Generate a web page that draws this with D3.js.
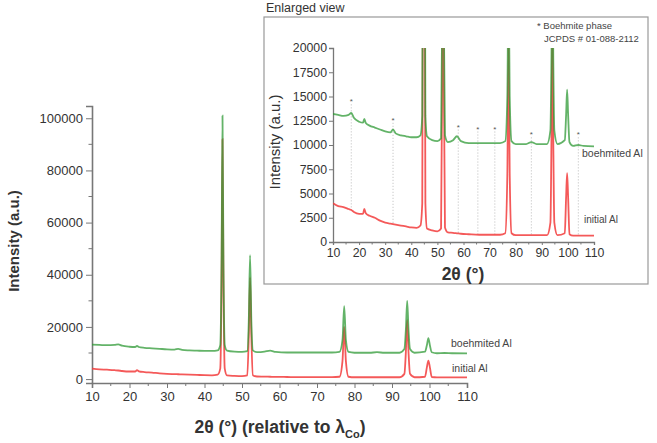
<!DOCTYPE html>
<html><head><meta charset="utf-8">
<script src="https://cdn.jsdelivr.net/npm/d3@7"></script>
<style>
body{margin:0;background:#fff;}
text{font-family:"Liberation Sans",Arial,sans-serif;}
</style></head>
<body><svg id="c" width="657" height="443"></svg>
<script>
const twoTheta = [10,12,14,16,17,18,20,21.5,22,22.5,24,26,28,30,32,33,34,36,38,40,42,43.5,44.2,44.55,44.8,45.05,45.4,46,48,50,51.4,51.8,52.15,52.5,52.9,54,56,57.5,59,62,66,70,74,76,76.8,77.25,77.7,78.4,80,84,86,88,92,93.3,93.7,94.05,94.4,94.8,96,98.8,99.3,99.7,100.1,100.6,102,104,106,110];
const boehmited = [13200,13100,13000,13100,13300,12800,12400,12300,12700,12300,12000,11800,11600,11400,11300,11600,11200,11000,10900,10800,10800,11000,13000,45000,101000,45000,13000,10900,10500,10400,10700,22000,47500,22000,11000,10300,10500,10900,10400,10200,10200,10200,10200,10400,15000,28000,15000,10400,10100,10100,10300,10100,10100,11500,19000,30000,19000,11500,10100,10500,13000,15700,13000,10300,9900,10000,9900,9850];
const initial = [4000,3700,3600,3400,3300,3100,2900,2900,3400,3000,2700,2500,2200,2000,1900,1850,1800,1700,1600,1500,1450,1700,4000,38000,92000,38000,4000,1400,1200,1100,1400,16000,39000,16000,1500,1000,950,900,850,800,750,750,750,900,7000,20000,7000,900,700,700,700,700,700,2000,10500,22600,10500,2000,700,900,4500,7100,4500,800,650,650,650,650];
const seriesNames = ["boehmited Al","initial Al"];
const boehmitePeaks = [17,33,58,65.5,72,86,104];
const boehmiteMarkLevel = [14600,12700,12000,11800,11800,11200,11200];
const mainXTicks = [10,20,30,40,50,60,70,80,90,100,110];
const mainYTicks = [0,20000,40000,60000,80000,100000];
const insetYTicks = [0,2500,5000,7500,10000,12500,15000,17500,20000];

const GREEN = "#2f9a35", RED = "#f23c3c";
const svg = d3.select("#c");
const green = twoTheta.map((t,i)=>({t, v:boehmited[i]}));
const red = twoTheta.map((t,i)=>({t, v:initial[i]}));

// ---------- main chart ----------
const mx = d3.scaleLinear().domain([10,110]).range([92,467]);
const my = d3.scaleLinear().domain([-1500,104700]).range([383,106]);
const mg = svg.append("g");
const axCol = "#777";
const xAx = d3.axisBottom(mx).tickValues(mainXTicks).tickSize(5).tickPadding(4);
const gx = mg.append("g").attr("transform","translate(0,383)").call(xAx);
const xMinor = d3.range(15,110,10);
mg.append("g").selectAll("line").data(xMinor).join("line")
  .attr("x1",d=>mx(d)).attr("x2",d=>mx(d)).attr("y1",383).attr("y2",386).attr("stroke",axCol);
const yAx = d3.axisLeft(my).tickValues(mainYTicks).tickSize(6).tickPadding(3).tickFormat(d3.format("d"));
const gy = mg.append("g").attr("transform","translate(92,0)").call(yAx);
mg.append("g").selectAll("line").data(d3.range(10000,104000,20000)).join("line")
  .attr("x1",88.5).attr("x2",92).attr("y1",d=>my(d)).attr("y2",d=>my(d)).attr("stroke",axCol);
[gx,gy].forEach(g=>{
  g.select(".domain").attr("stroke",axCol).attr("stroke-width",1.6);
  g.selectAll(".tick line").attr("stroke",axCol);
  g.selectAll("text").attr("font-size",13).attr("fill","#333").attr("font-family","Liberation Sans, Arial, sans-serif");
});
const mline = d3.line().x(d=>mx(d.t)).y(d=>my(d.v)).curve(d3.curveMonotoneX);
mg.append("path").datum(red).attr("d",mline).attr("fill","none").attr("stroke",RED).attr("stroke-width",1.8).attr("opacity",0.85);
mg.append("path").datum(green).attr("d",mline).attr("fill","none").attr("stroke",GREEN).attr("stroke-width",1.8).attr("opacity",0.75);
mg.append("text").attr("x",451).attr("y",347).attr("font-size",10.5).attr("fill","#444").text(seriesNames[0]);
mg.append("text").attr("x",452).attr("y",372).attr("font-size",10.5).attr("fill","#444").text(seriesNames[1]);
mg.append("text").attr("transform","translate(19,241) rotate(-90)").attr("text-anchor","middle")
  .attr("font-size",15).attr("font-weight","bold").attr("fill","#333").text("Intensity (a.u.)");
const xt = mg.append("text").attr("x",280).attr("y",433).attr("text-anchor","middle")
  .attr("font-size",17.5).attr("font-weight","bold").attr("fill","#333");
xt.append("tspan").text("2θ (°) (relative to λ");
xt.append("tspan").attr("dy",5).attr("font-size",11).text("Co");
xt.append("tspan").attr("dy",-5).text(")");

// ---------- inset ----------
const ig = svg.append("g");
ig.append("text").attr("x",266).attr("y",12).attr("font-size",12.5).attr("fill","#333").text("Enlarged view");
ig.append("rect").attr("x",264).attr("y",17).attr("width",384).attr("height",267).attr("fill","#fff")
  .attr("stroke","#999").attr("stroke-width",1.2);
const ix = d3.scaleLinear().domain([10,110]).range([333,594]);
const iy = d3.scaleLinear().domain([0,20000]).range([242,48]);
svg.append("defs").append("clipPath").attr("id","ic").append("rect")
  .attr("x",ix(10)).attr("y",iy(20000)).attr("width",ix(110)-ix(10)+2).attr("height",iy(0)-iy(20000));
const interpRed = t => { const i = d3.bisectLeft(twoTheta,t); if(i<=0) return initial[0];
  const t0=twoTheta[i-1], t1=twoTheta[i]; return initial[i-1]+(initial[i]-initial[i-1])*(t-t0)/(t1-t0); };
ig.append("g").selectAll("line").data(boehmitePeaks).join("line")
  .attr("x1",d=>ix(d)).attr("x2",d=>ix(d)).attr("y1",(d,i)=>iy(boehmiteMarkLevel[i])+4).attr("y2",d=>iy(interpRed(d)))
  .attr("stroke","#aaa").attr("stroke-width",0.8).attr("stroke-dasharray","1,2");
ig.append("g").selectAll("text").data(boehmitePeaks).join("text")
  .attr("x",d=>ix(d)).attr("y",(d,i)=>iy(boehmiteMarkLevel[i])+4).attr("text-anchor","middle")
  .attr("font-size",8).attr("fill","#555").text("*");
const ixAx = d3.axisBottom(ix).tickValues(mainXTicks).tickSize(3).tickPadding(3);
const igx = ig.append("g").attr("transform","translate(0,242)").call(ixAx);
ig.append("g").selectAll("line").data(xMinor).join("line")
  .attr("x1",d=>ix(d)).attr("x2",d=>ix(d)).attr("y1",242).attr("y2",244.5).attr("stroke",axCol);
const iyAx = d3.axisLeft(iy).tickValues(insetYTicks).tickSize(4).tickPadding(2).tickFormat(d3.format("d"));
const igy = ig.append("g").attr("transform","translate(333,0)").call(iyAx);
[igx,igy].forEach(g=>{
  g.select(".domain").attr("stroke",axCol).attr("stroke-width",1.3);
  g.selectAll(".tick line").attr("stroke",axCol);
  g.selectAll("text").attr("font-size",12.3).attr("fill","#333").attr("font-family","Liberation Sans, Arial, sans-serif");
});
const iline = d3.line().x(d=>ix(d.t)).y(d=>iy(d.v)).curve(d3.curveMonotoneX);
const ic = ig.append("g").attr("clip-path","url(#ic)");
ic.append("path").datum(red).attr("d",iline).attr("fill","none").attr("stroke",RED).attr("stroke-width",1.8).attr("opacity",0.85);
ic.append("path").datum(green).attr("d",iline).attr("fill","none").attr("stroke",GREEN).attr("stroke-width",1.8).attr("opacity",0.75);
ig.append("text").attr("x",582).attr("y",157).attr("font-size",10.5).attr("fill","#444").text(seriesNames[0]);
ig.append("text").attr("x",584).attr("y",223).attr("font-size",10).attr("fill","#444").text(seriesNames[1]);
ig.append("text").attr("x",537).attr("y",29).attr("font-size",9.5).attr("fill","#444").text("* Boehmite phase");
ig.append("text").attr("x",544).attr("y",42).attr("font-size",9.5).attr("fill","#444").text("JCPDS # 01-088-2112");
ig.append("text").attr("transform","translate(280,142) rotate(-90)").attr("text-anchor","middle")
  .attr("font-size",15).attr("fill","#333").text("Intensity (a.u.)");
ig.append("text").attr("x",463).attr("y",280).attr("text-anchor","middle")
  .attr("font-size",17.5).attr("font-weight","bold").attr("fill","#333").text("2θ (°)");
</script></body></html>
